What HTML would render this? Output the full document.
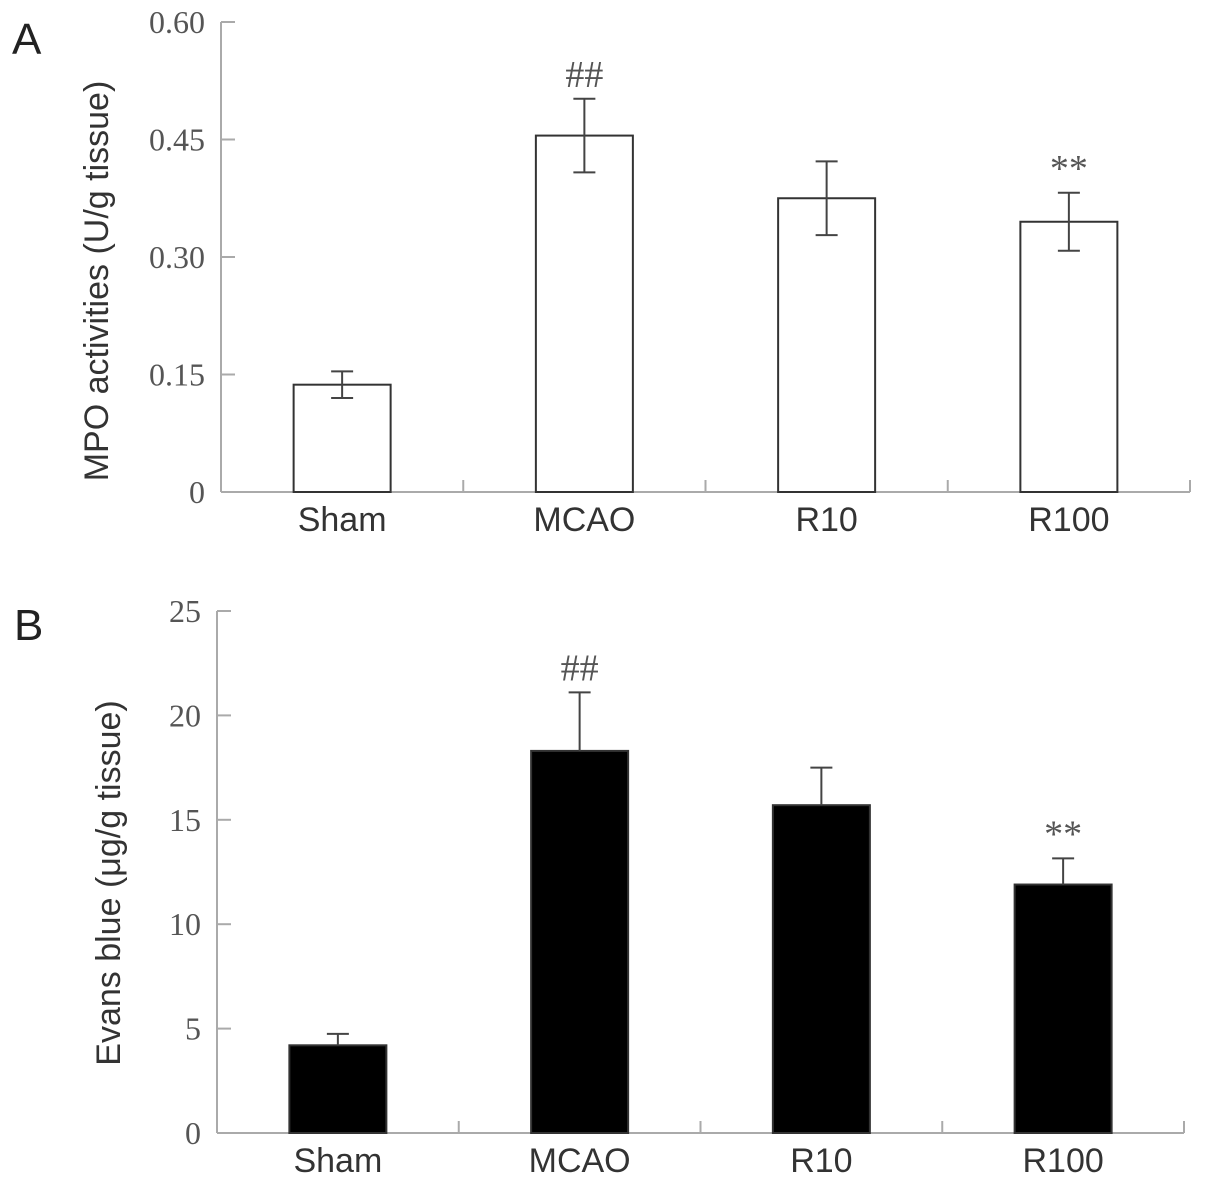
<!DOCTYPE html>
<html><head><meta charset="utf-8"><style>
body{margin:0;background:#fff;}
svg{display:block;}
.tk{font-family:"Liberation Serif",serif;font-size:32px;fill:#555;}
.cat{font-family:"Liberation Sans",sans-serif;font-size:34px;fill:#333;}
.yt{font-family:"Liberation Sans",sans-serif;font-size:34px;fill:#333;}
.pl{font-family:"Liberation Sans",sans-serif;font-size:44px;fill:#222;}
.sig{font-family:"Liberation Serif",serif;font-size:38px;fill:#555;}
</style></head><body>
<svg id="c" width="1205" height="1186" xmlns="http://www.w3.org/2000/svg">
<text class="pl" x="12" y="54">A</text>
<text class="pl" x="14" y="640">B</text>
</svg>
<script>
const categories=["Sham","MCAO","R10","R100"];
const mpoValues=[0.137,0.455,0.375,0.345];
const mpoErrors=[0.017,0.047,0.047,0.037];
const mpoTicks=["0","0.15","0.30","0.45","0.60"];
const mpoTickValues=[0,0.15,0.30,0.45,0.60];
const mpoSig=["","##","","**"];
const ebValues=[4.2,18.3,15.7,11.9];
const ebErrors=[0.55,2.8,1.8,1.25];
const ebTicks=["0","5","10","15","20","25"];
const ebTickValues=[0,5,10,15,20,25];
const ebSig=["","##","","**"];

const svg=document.getElementById('c');
const NS="http://www.w3.org/2000/svg";
function mk(tag,attrs,name,parent){const e=document.createElementNS(NS,tag);for(const k in attrs)e.setAttribute(k,attrs[k]);


(parent||svg).appendChild(e);return e;}

function panel(o){
  const g=mk('g',{},o.name);
  const y=v=>o.y0-(v/o.max)*(o.y0-o.yTop);
  const bw=(o.x1-o.x0)/categories.length;
  const x=i=>o.x0+bw*(i+0.5);
  mk('line',{x1:o.x0,y1:o.yTop,x2:o.x0,y2:o.y0,stroke:'#aaa','stroke-width':2},'y-axis',g);
  mk('line',{x1:o.x0,y1:o.y0,x2:o.x1,y2:o.y0,stroke:'#aaa','stroke-width':2},'x-axis',g);
  o.tickValues.forEach((v,i)=>{
    mk('line',{x1:o.x0,y1:y(v),x2:o.x0+14,y2:y(v),stroke:'#aaa','stroke-width':2},'y-tick',g);
    const t=mk('text',{x:o.x0-16,y:y(v)+11,'text-anchor':'end',class:'tk'},'y-tick-label',g);t.textContent=o.ticks[i];
  });
  for(let i=1;i<=categories.length;i++){
    mk('line',{x1:o.x0+bw*i,y1:o.y0,x2:o.x0+bw*i,y2:o.y0-12,stroke:'#aaa','stroke-width':2},'x-tick',g);
  }
  categories.forEach((c,i)=>{
    const v=o.values[i],e=o.errors[i],cx=x(i);
    mk('rect',{x:cx-48.5,y:y(v),width:97,height:o.y0-y(v),fill:o.fill,stroke:'#333','stroke-width':2},'bar-'+c.toLowerCase(),g);
    const lo=o.both?y(v-e):y(v);
    mk('line',{x1:cx,y1:y(v+e),x2:cx,y2:lo,stroke:'#444','stroke-width':2},'error-bar',g);
    mk('line',{x1:cx-11,y1:y(v+e),x2:cx+11,y2:y(v+e),stroke:'#444','stroke-width':2},'error-cap',g);
    if(o.both)mk('line',{x1:cx-11,y1:lo,x2:cx+11,y2:lo,stroke:'#444','stroke-width':2},'error-cap',g);
    const l=mk('text',{x:cx,y:o.y0+39,'text-anchor':'middle',class:'cat'},'x-label-'+c.toLowerCase(),g);l.textContent=c;
    if(o.sig[i]){const s=mk('text',{x:cx,y:y(v+e)-12,'text-anchor':'middle',class:'sig'},'significance-marker',g);s.textContent=o.sig[i];}
  });
  const yl=mk('text',{x:0,y:0,'text-anchor':'middle',class:'yt',transform:`translate(${o.titleX},${o.titleY}) rotate(-90)`},'y-axis-title',g);
  yl.textContent=o.title;
}
panel({name:'panel-a',x0:221,x1:1190,y0:492,yTop:22,max:0.6,values:mpoValues,errors:mpoErrors,ticks:mpoTicks,tickValues:mpoTickValues,sig:mpoSig,fill:'#fff',both:true,title:'MPO activities (U/g tissue)',titleX:108,titleY:281});
panel({name:'panel-b',x0:217,x1:1184,y0:1133,yTop:611,max:25,values:ebValues,errors:ebErrors,ticks:ebTicks,tickValues:ebTickValues,sig:ebSig,fill:'#000',both:false,title:'Evans blue (μg/g tissue)',titleX:120,titleY:883});
</script>
</body></html>
